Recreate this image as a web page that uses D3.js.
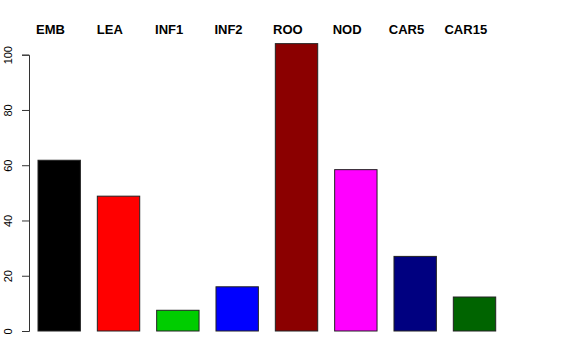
<!DOCTYPE html>
<html>
<head>
<meta charset="utf-8">
<script src="https://cdn.jsdelivr.net/npm/d3@7"></script>
<style>
  body { margin: 0; background: #fff; }
  svg { display: block; }
  text { font-family: "Liberation Sans", Arial, sans-serif; }
</style>
</head>
<body>
<div id="chart"></div>
<script>
var categories = ["EMB", "LEA", "INF1", "INF2", "ROO", "NOD", "CAR5", "CAR15"];
var values = [61.8, 48.8, 7.5, 16.0, 104.0, 58.4, 27.0, 12.3];
var colors = ["#000000", "#ff0000", "#00cd00", "#0000ff", "#8b0000", "#ff00ff", "#000080", "#006400"];
var yTicks = [0, 20, 40, 60, 80, 100];

var width = 576, height = 360;

var svg = d3.select("#chart").append("svg")
    .attr("width", width)
    .attr("height", height);

// scales
var x = d3.scaleBand()
    .domain(categories)
    .range([38, 495.7])
    .paddingInner(0.2857)
    .paddingOuter(0);

var y = d3.scaleLinear()
    .domain([0, 100])
    .range([331, 54.7]);

// bars
svg.append("g")
  .selectAll("rect")
  .data(categories)
  .enter()
  .append("rect")
    .attr("x", function(d) { return x(d); })
    .attr("y", function(d, i) { return y(values[i]); })
    .attr("width", x.bandwidth())
    .attr("height", function(d, i) { return y(0) - y(values[i]); })
    .attr("fill", function(d, i) { return colors[i]; })
    .attr("stroke", "#222")
    .attr("stroke-width", 1);

// y axis
var yAxis = d3.axisLeft(y)
    .tickValues(yTicks)
    .tickSize(7)
    .tickPadding(4);

var gy = svg.append("g")
    .attr("transform", "translate(29,0)")
    .call(yAxis);

gy.select(".domain").attr("stroke", "#333");
gy.selectAll(".tick line").attr("stroke", "#333");
gy.selectAll(".tick text")
    .attr("font-size", "11px")
    .attr("fill", "#000")
    .attr("transform", "rotate(-90)")
    .attr("x", 0)
    .attr("y", -17)
    .attr("dy", "0")
    .attr("text-anchor", "middle");

// labels across the top, a little left of each bar centre
svg.append("g")
  .selectAll("text")
  .data(categories)
  .enter()
  .append("text")
    .attr("x", function(d) { return x(d) + x.bandwidth() / 2 - 8.7; })
    .attr("y", 34)
    .attr("text-anchor", "middle")
    .attr("font-size", "13px")
    .attr("font-weight", "bold")
    .text(function(d) { return d; });
</script>
</body>
</html>
